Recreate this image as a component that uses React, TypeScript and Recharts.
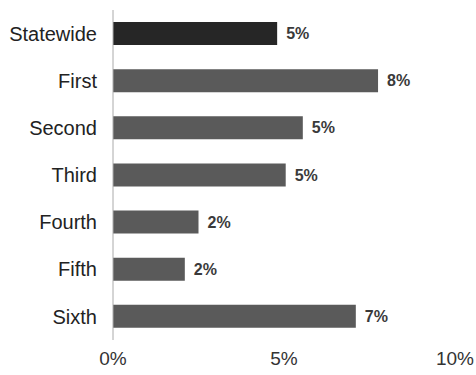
import { BarChart, Bar, XAxis, YAxis, Cell, LabelList } from 'recharts';

const CATEGORIES = ['Statewide', 'First', 'Second', 'Third', 'Fourth', 'Fifth', 'Sixth'];
const VALUES = [4.8, 7.75, 5.55, 5.05, 2.5, 2.1, 7.1];
const VALUE_LABELS = ['5%', '8%', '5%', '5%', '2%', '2%', '7%'];
const X_TICKS = [0, 5, 10];

const data = CATEGORIES.map((name, i) => ({ name, value: VALUES[i], label: VALUE_LABELS[i] }));

const FONT = '"Liberation Sans", Arial, sans-serif';

export default function App() {
  return (
    <div style={{ position: 'absolute', left: 0, top: 0, background: '#fff' }}>
      <BarChart
        width={476}
        height={375}
        data={data}
        layout="vertical"
        margin={{ top: 10, right: 21, bottom: 5, left: 0 }}
        barSize={23}
      >
        <XAxis
          type="number"
          domain={[0, 10]}
          ticks={X_TICKS}
          tickFormatter={(v: number) => `${v}%`}
          axisLine={false}
          tickLine={false}
          tickSize={0}
          tickMargin={12}
          height={30}
          interval={0}
          tick={{ fill: '#333', fontSize: 19, fontFamily: FONT }}
        />
        <YAxis
          type="category"
          dataKey="name"
          width={113}
          axisLine={{ stroke: '#aaa', strokeWidth: 1 }}
          tickLine={false}
          tickSize={0}
          tickMargin={16}
          interval={0}
          tick={{ fill: '#222', fontSize: 20, fontFamily: FONT }}
        />
        <Bar dataKey="value" isAnimationActive={false}>
          {data.map((d, i) => (
            <Cell key={d.name} fill={i === 0 ? '#262626' : '#5a5a5a'} />
          ))}
          <LabelList
            dataKey="label"
            position="right"
            offset={9}
            style={{ fill: '#3a3a3a', fontSize: 16, fontWeight: 'bold', fontFamily: FONT }}
          />
        </Bar>
      </BarChart>
    </div>
  );
}
